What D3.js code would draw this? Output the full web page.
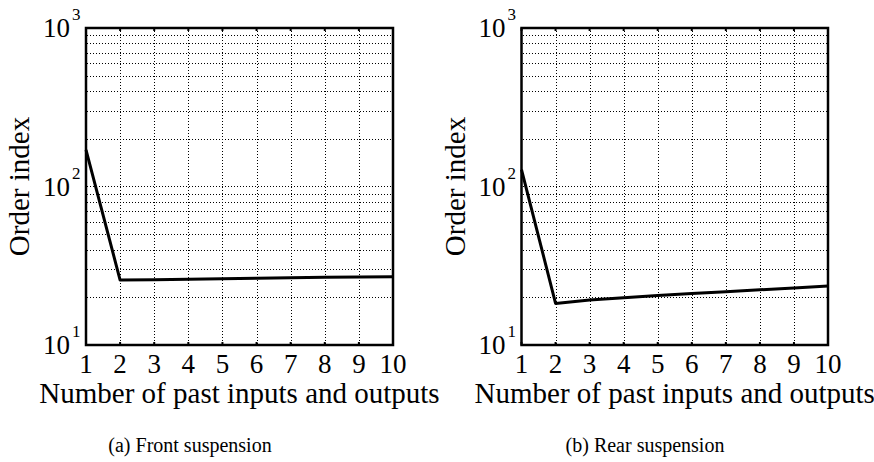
<!DOCTYPE html>
<html><head><meta charset="utf-8">
<script src="https://cdn.jsdelivr.net/npm/d3@7"></script>
<style>body{margin:0;background:#fff}svg{display:block}text{font-family:"Liberation Serif","Times New Roman",Times,"DejaVu Serif",serif;fill:#000}</style>
</head><body>
<svg id="c" width="874" height="462" font-family="Liberation Serif, Times New Roman, serif"></svg>
<script>
const xTicks = [1,2,3,4,5,6,7,8,9,10];
const yMajor = [10,100,1000];
const frontValues = [170, 25.7, 25.8, 26.0, 26.2, 26.4, 26.6, 26.8, 26.9, 27.0];
const rearValues = [128, 18.3, 19.2, 19.9, 20.5, 21.1, 21.7, 22.3, 22.9, 23.6];
const captions = ["(a) Front suspension", "(b) Rear suspension"];
const xLabel = "Number of past inputs and outputs";
const yLabel = "Order index";

const svg = d3.select("#c");
const panels = [
  {x0:86, x1:393, vals:frontValues, cap:captions[0], capX:190},
  {x0:521.5, x1:828, vals:rearValues, cap:captions[1], capX:645}
];
const yTop = 28, yBot = 345;

panels.forEach(p => {
  const x = d3.scaleLinear().domain([1,10]).range([p.x0, p.x1]);
  const y = d3.scaleLog().domain([10,1000]).range([yBot, yTop]);
  const g = svg.append("g");
  const minor = [];
  [10,100].forEach(d => { for (let k=2;k<=9;k++) minor.push(d*k); });
  minor.push(100);
  const gx0 = Math.round(p.x0) + 1;
  g.selectAll(".gy").data(minor).enter().append("line")
    .attr("x1", gx0).attr("x2", p.x1)
    .attr("y1", d=>Math.round(y(d))+0.5).attr("y2", d=>Math.round(y(d))+0.5)
    .attr("stroke","#000").attr("stroke-width",1).attr("stroke-dasharray","1,2")
    .attr("shape-rendering","crispEdges");
  g.selectAll(".gx").data(xTicks.slice(1,-1)).enter().append("line")
    .attr("x1", d=>Math.round(x(d))+0.5).attr("x2", d=>Math.round(x(d))+0.5)
    .attr("y1", yTop).attr("y2", yBot)
    .attr("stroke","#000").attr("stroke-width",1).attr("stroke-dasharray","1,2")
    .attr("shape-rendering","crispEdges");
  g.selectAll(".tb").data(xTicks).enter().append("line")
    .attr("x1", d=>x(d)).attr("x2", d=>x(d)).attr("y1", yBot).attr("y2", yBot-3)
    .attr("stroke","#000").attr("stroke-width",2);
  g.selectAll(".tt").data(xTicks).enter().append("line")
    .attr("x1", d=>x(d)).attr("x2", d=>x(d)).attr("y1", yTop).attr("y2", yTop+3)
    .attr("stroke","#000").attr("stroke-width",2);
  g.append("path").datum(p.vals)
    .attr("d", d3.line().x((d,i)=>x(xTicks[i])).y(d=>y(d)))
    .attr("fill","none").attr("stroke","#000").attr("stroke-width",3).attr("stroke-linejoin","round");
  g.append("rect").attr("x",p.x0).attr("y",yTop).attr("width",p.x1-p.x0).attr("height",yBot-yTop)
    .attr("fill","none").attr("stroke","#000").attr("stroke-width",2.5);
  g.selectAll(".xl").data(xTicks).enter().append("text")
    .attr("x", d=>x(d)).attr("y", 373).attr("text-anchor","middle")
    .attr("font-size",27).text(d=>d);
  yMajor.forEach(d => {
    g.append("text").attr("x", p.x0-16).attr("y", y(d)+9)
      .attr("text-anchor","end").attr("font-size",27).text("10");
    g.append("text").attr("x", p.x0-14).attr("y", y(d)-8)
      .attr("font-size",17).text(String(Math.round(Math.log10(d))));
  });
  g.append("text").attr("transform",`translate(${p.x0-57},${(yTop+yBot)/2}) rotate(-90)`)
    .attr("text-anchor","middle").attr("font-size",29).text(yLabel);
  g.append("text").attr("x",(p.x0+p.x1)/2).attr("y",403).attr("text-anchor","middle")
    .attr("font-size",29).text(xLabel);
  g.append("text").attr("x",p.capX).attr("y",452).attr("text-anchor","middle")
    .attr("font-size",20).text(p.cap);
});
</script>
</body></html>
